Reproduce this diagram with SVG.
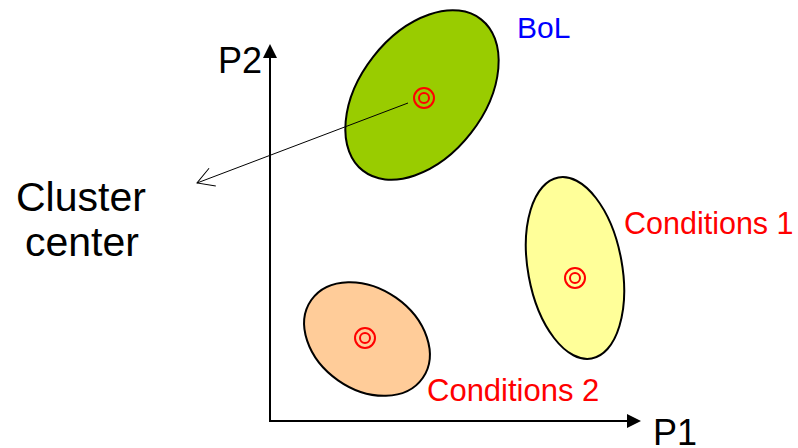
<svg xmlns="http://www.w3.org/2000/svg" width="798" height="448" viewBox="0 0 798 448">
  <defs>
    <style>
      .cluster { stroke: #000000; stroke-width: 2; }
      .ring { fill: none; stroke: #FF0000; stroke-width: 2; }
      .axis { stroke: #000000; stroke-width: 2; fill: none; }
      .lbl { font-family: "Liberation Sans", Arial, sans-serif; }
      .black { fill: #000000; }
      .red { fill: #FF0000; }
      .blue { fill: #0000FF; }
    </style>
    <marker id="axisHead" viewBox="0 0 14 14" refX="0" refY="7" markerWidth="14" markerHeight="14" orient="auto" markerUnits="userSpaceOnUse">
      <path d="M0,0 L14,7 L0,14 Z" fill="#000000"/>
    </marker>
    <marker id="openHead" viewBox="-18 -11 20 22" refX="0" refY="0" markerWidth="20" markerHeight="22" orient="auto" markerUnits="userSpaceOnUse">
      <path d="M-16.5,-9.5 L0,0 L-16.5,9.5" fill="none" stroke="#000000" stroke-width="1"/>
    </marker>
  </defs>

  <rect width="798" height="448" fill="#FFFFFF"/>

  <g id="axes">
    <path class="axis" d="M270,421 V58" marker-end="url(#axisHead)"/>
    <path class="axis" d="M269,421 H627" marker-end="url(#axisHead)"/>
    <text class="lbl black" x="218" y="73" font-size="36">P2</text>
    <text class="lbl black" x="653" y="445" font-size="36">P1</text>
  </g>

  <g id="bol">
    <ellipse class="cluster" cx="422" cy="95" rx="96" ry="62" fill="#99CC00" transform="rotate(-52 422 95)"/>
    <circle class="ring" cx="424" cy="98" r="10"/>
    <circle class="ring" cx="424" cy="98" r="5"/>
    <text class="lbl blue" x="517" y="38" font-size="30">BoL</text>
  </g>

  <g id="conditions1">
    <ellipse class="cluster" cx="575" cy="268" rx="47" ry="92" fill="#FFFF99" transform="rotate(-10.4 575 268)"/>
    <circle class="ring" cx="575" cy="278" r="10"/>
    <circle class="ring" cx="575" cy="278" r="5"/>
    <text class="lbl red" x="624" y="234" font-size="30.5">Conditions 1</text>
  </g>

  <g id="conditions2">
    <ellipse class="cluster" cx="367" cy="339" rx="68" ry="50.5" fill="#FFCC99" transform="rotate(35 367 339)"/>
    <circle class="ring" cx="365" cy="338" r="10"/>
    <circle class="ring" cx="365" cy="338" r="5"/>
    <text class="lbl red" x="427" y="401" font-size="31">Conditions 2</text>
  </g>

  <g id="clusterCenterLabel">
    <text class="lbl black" x="16" y="211" font-size="41">Cluster</text>
    <text class="lbl black" x="25" y="256" font-size="41">center</text>
  </g>

  <g id="connectors">
    <path d="M408,103 L197,183" stroke="#000000" stroke-width="1" fill="none" marker-end="url(#openHead)"/>
  </g>
</svg>
